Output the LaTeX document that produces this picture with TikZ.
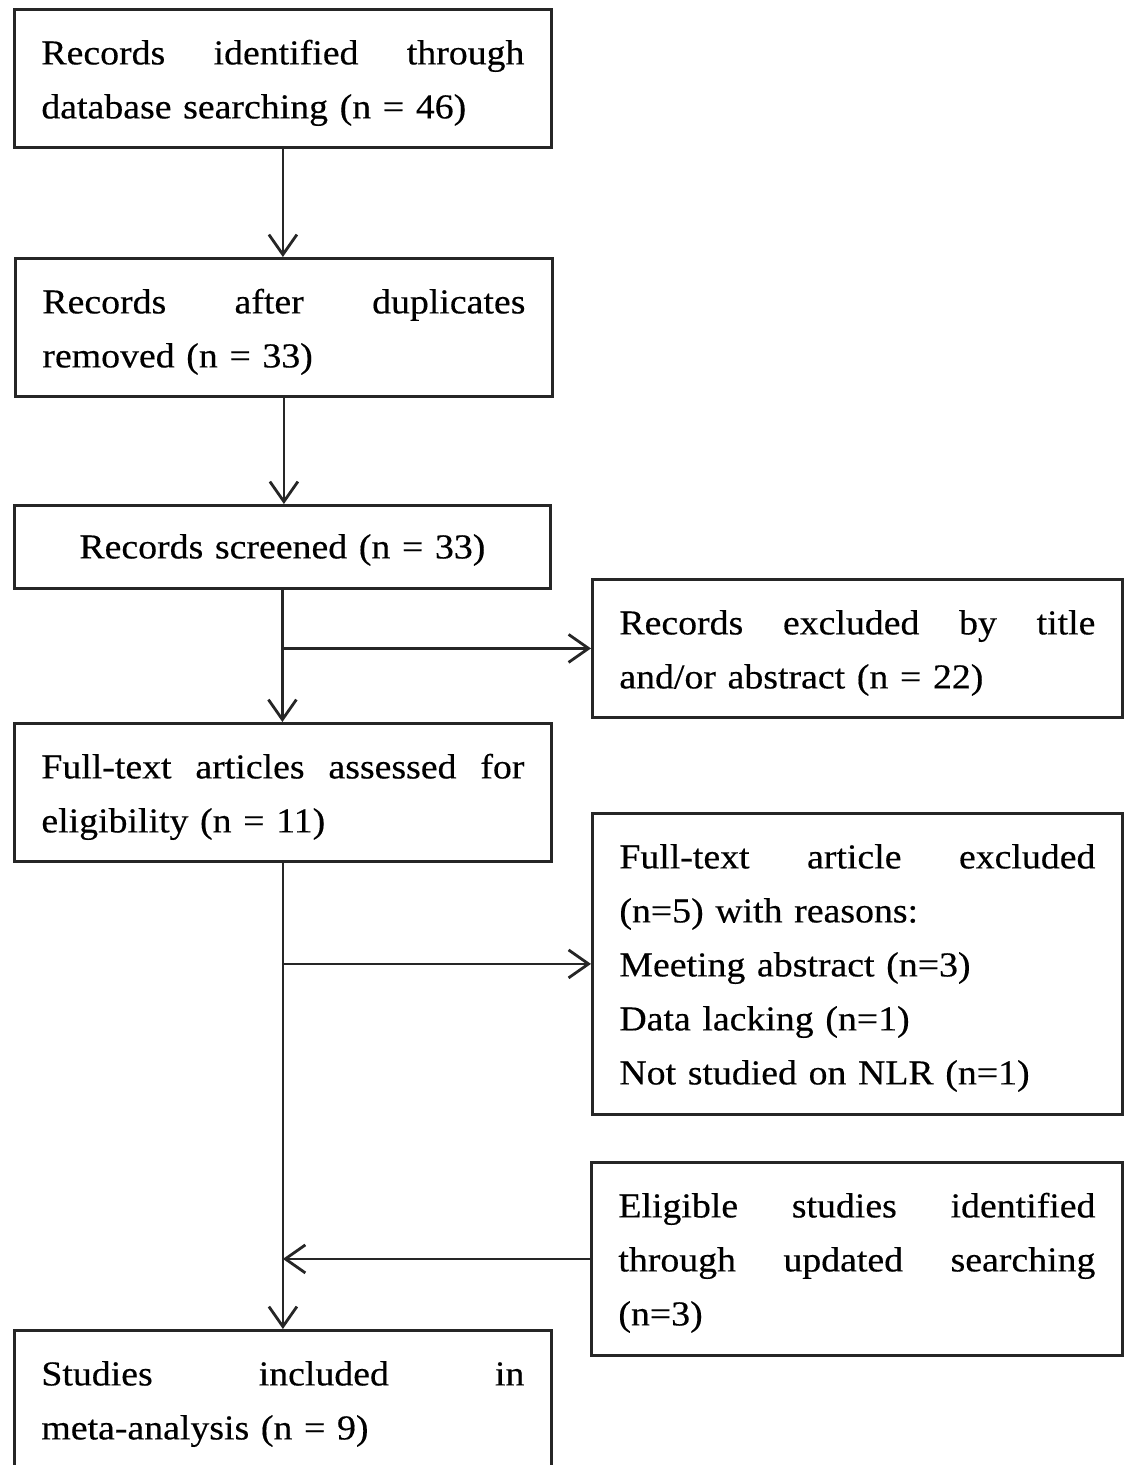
\documentclass[tikz,border=0pt]{standalone}
\usepackage{fontspec}
\setmainfont{Liberation Serif}[FakeStretch=1.08,FakeBold=0.4]
\usetikzlibrary{arrows.meta}
\newcommand{\mytop}{\rule{0pt}{55pt}}
\newcommand{\mybot}{\rule[-29pt]{0pt}{29pt}}
\begin{document}
\begin{tikzpicture}[x=1pt,y=-1pt,
  box/.style={draw=black!85, line width=2.8pt, rectangle, inner ysep=0pt,
    inner xsep=27pt, text width=483pt, align=left, anchor=north west,
    font=\fontsize{35}{54}\selectfont},
  rbox/.style={box, text width=476pt},
  arr/.style={draw=black!85, line width=2.8pt,
    -{Straight Barb[length=20pt,width=28pt,line width=2.8pt]}}]
\useasboundingbox (0,0) rectangle (1128,1465);
\clip (0,0) rectangle (1128,1465);
\node[box] (b1) at (13,8) {\mytop Records\hfill identified\hfill through\\database searching (n = 46)\mybot};
\node[box] (b2) at (14,257) {\mytop Records\hfill after\hfill duplicates\\removed (n = 33)\mybot};
\node[box, text width=482pt, align=center] (b3) at (13,504) {\rule{0pt}{53pt}Records screened (n = 33)\rule[-30pt]{0pt}{30pt}};
\node[rbox] (b4) at (591,578) {\mytop Records\hfill excluded\hfill by\hfill title\\and/or abstract (n = 22)\mybot};
\node[box] (b5) at (13,722) {\mytop Full-text\hfill articles\hfill assessed\hfill for\\eligibility (n = 11)\mybot};
\node[rbox] (b6) at (591,812) {\mytop Full-text\hfill article\hfill excluded\\(n=5) with reasons:\\Meeting abstract (n=3)\\Data lacking (n=1)\\Not studied on NLR (n=1)\rule[-30pt]{0pt}{30pt}};
\node[rbox, text width=477pt] (b7) at (590,1161) {\mytop Eligible\hfill studies\hfill identified\\through\hfill updated\hfill searching\\(n=3)\rule[-30pt]{0pt}{30pt}};
\node[box] (b8) at (13,1329) {\mytop Studies\hfill included\hfill in\\meta-analysis (n = 9)\mybot};
\draw[arr] (b1.south) -- (b1.south |- b2.north);
\draw[arr] (b2.south) -- (b2.south |- b3.north);
\draw[arr] (b3.south) -- (b3.south |- b5.north);
\coordinate (j1) at (b3.south |- b4.west);
\draw[arr] (j1) -- (b4.west);
\draw[arr] (b5.south) -- (b5.south |- b8.north);
\coordinate (j2) at (b5.south |- b6.west);
\draw[arr] (j2) -- (b6.west);
\draw[arr] (b7.west) -- (b7.west -| b5.south);
\end{tikzpicture}
\end{document}
